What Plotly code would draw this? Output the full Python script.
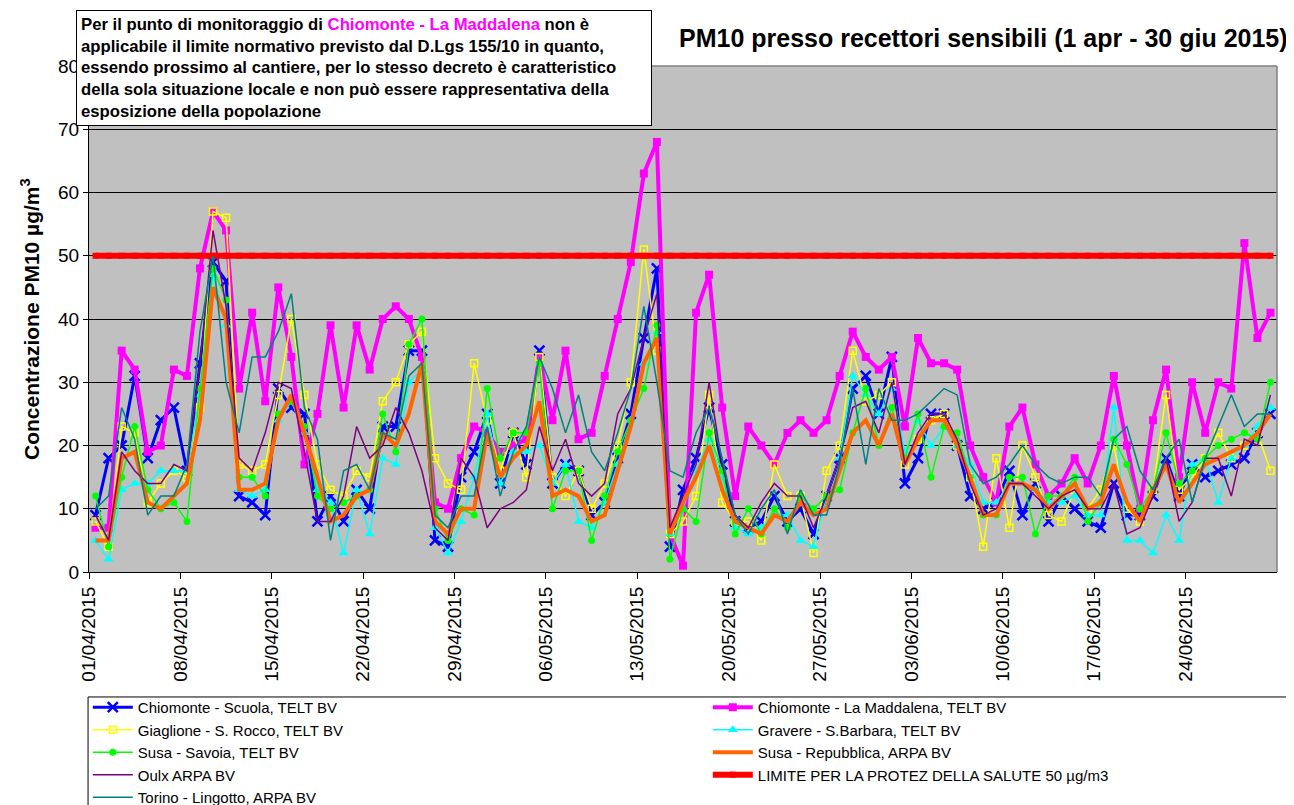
import plotly.graph_objects as go
import pandas as pd

# ---- categories ----
dates = pd.date_range("2015-04-01", "2015-06-30", freq="D")
tick_labels = ["01/04/2015", "08/04/2015", "15/04/2015", "22/04/2015", "29/04/2015",
               "06/05/2015", "13/05/2015", "20/05/2015", "27/05/2015", "03/06/2015",
               "10/06/2015", "17/06/2015", "24/06/2015"]

# ---- series values (µg/m3) ----
scuola = [9,18,20,31,18,24,26,16,33,49, 46,12,11,9,29,26,25,8,12,8,
          13,10,23,23,35,35,5,4,15,19, 25,14,22,17,35,14,17,16,9,11,
          18,25,37,48,4,13,18,26,17,8, 7,8,12,8,10,6,12,18,29,31,
          25,34,14,18,25,25,20,12,10,11, 16,9,14,8,12,10,8,7,14,9,
          9,12,18,12,17,15,16,17,18,22, 25]
maddalena = [7,7,35,32,19,20,32,31,48,57, 54,29,41,27,45,34,17,25,39,26,
             39,32,40,42,40,34,11,10,18,23, 22,19,20,21,34,24,35,21,22,31,
             40,49,63,68,6,1,41,47,26,12, 23,20,17,22,24,22,24,31,38,34,
             32,34,23,37,33,33,32,20,15,11, 23,26,17,12,14,18,14,20,31,20,
             10,24,32,15,30,22,30,29,52,37, 41]
giaglione = [8,4,23,22,11,14,16,15,26,57, 56,17,16,17,28,40,28,17,13,12,
             16,15,27,30,36,38,18,14,13,33, 24,16,22,15,34,15,12,16,10,14,
             20,30,51,35,6,8,12,28,11,8, 8,5,17,12,12,3,16,20,35,27,
             28,30,17,21,24,25,20,15,4,18, 7,20,15,9,8,13,10,13,20,10,
             8,13,28,13,15,18,22,18,20,22, 16]
gravere = [5,2,13,14,14,16,16,16,28,47, 39,13,12,13,24,27,22,13,11,3,
           13,6,18,17,30,32,7,3,8,15, 25,14,19,19,20,14,17,8,7,11,
           17,24,33,38,6,10,16,21,15,7, 6,7,9,9,5,4,12,18,31,28,
           25,29,19,24,20,23,20,17,11,11, 14,14,13,11,11,12,9,9,26,5,
           5,3,9,5,17,18,11,18,20,23, 26]
savoia = [12,4,15,23,13,10,11,8,29,48, 43,15,15,12,25,27,23,12,10,11,
          12,13,25,19,36,40,10,5,10,9, 29,18,22,22,33,10,16,16,5,12,
          19,24,29,39,2,10,8,22,16,6, 10,6,10,7,12,10,12,13,22,29,
          20,26,18,25,15,23,22,15,9,9, 15,15,6,12,12,15,8,11,21,17,
          10,13,22,14,16,18,20,21,22,21, 30]
repubblica = [5,5,18,19,11,10,12,14,24,45, 40,13,13,14,24,28,22,15,8,9,
              12,13,22,20,25,33,8,6,10,10, 22,15,18,20,27,12,13,12,8,9,
              16,23,33,37,6,11,15,20,13,8, 7,6,9,8,11,9,10,16,22,24,
              20,25,17,21,24,24,20,15,9,9, 14,14,13,10,12,14,10,11,17,11,
              8,13,17,11,14,17,18,19,20,22, 25]
oulx = [9,5,19,16,14,14,17,16,33,54, 42,18,16,22,30,29,19,8,8,12,
        23,18,20,26,22,16,7,5,18,15, 7,10,11,13,23,16,21,14,12,14,
        25,29,37,44,7,12,17,30,17,9, 7,11,14,12,12,7,12,18,26,27,
        22,30,17,22,25,25,21,14,9,10, 14,14,12,10,12,13,10,10,14,6,
        7,12,18,8,11,18,18,12,21,20, 28]
torino = [10,12,26,21,9,12,12,17,38,50, 30,22,34,34,38,44,26,21,5,16,
          17,13,22,21,31,33,9,7,12,12, 23,12,19,23,34,29,22,28,19,16,
          22,29,42,30,16,15,22,26,18,9, 6,10,13,6,13,9,9,17,29,17,
          29,24,24,25,27,29,28,17,14,15, 17,20,17,15,14,15,15,12,21,23,
          16,13,18,21,11,18,23,28,23,25, 25]
limit_value = 50
limit = [limit_value] * len(dates)

FONT = "Liberation Sans, Arial, sans-serif"
half_day = pd.Timedelta(hours=12)

fig = go.Figure()

def add(name, y, color, width, symbol=None, msize=8, mline=None):
    mode = "lines+markers" if symbol else "lines"
    marker = None
    if symbol:
        marker = dict(symbol=symbol, size=msize, color=color)
        if mline is not None:
            marker["line"] = dict(width=mline, color=color)
    fig.add_trace(go.Scatter(x=dates, y=y, name=name, mode=mode,
                             line=dict(color=color, width=width),
                             marker=marker))

add("Chiomonte - Scuola, TELT BV", scuola, "#0000FF", 3, "x-thin", 10, 2.5)
add("Chiomonte - La Maddalena, TELT BV", maddalena, "#FF00FF", 4, "square", 8)
add("Giaglione - S. Rocco, TELT BV", giaglione, "#FFFF00", 1.5, "square-open", 7, 1.5)
add("Gravere - S.Barbara, TELT BV", gravere, "#00FFFF", 1.5, "triangle-up", 9)
add("Susa - Savoia, TELT BV", savoia, "#00FF00", 1.5, "circle", 7)
add("Susa - Repubblica, ARPA BV", repubblica, "#FF6600", 4)
add("Oulx ARPA BV", oulx, "#800080", 1.5)
add("LIMITE PER LA PROTEZ DELLA SALUTE 50 µg/m3", limit, "#FF0000", 6, "square", 6)
add("Torino - Lingotto, ARPA BV", torino, "#008080", 1.5)

tickvals = [pd.to_datetime(t, format="%d/%m/%Y") - half_day for t in tick_labels]

fig.update_layout(
    width=1294, height=805,
    margin=dict(l=81, r=25, t=58, b=241, autoexpand=False),
    paper_bgcolor="white",
    plot_bgcolor="#C0C0C0",
    font=dict(family=FONT, color="black"),
    showlegend=True,
    legend=dict(orientation="h", x=-0.001, xanchor="left", y=-0.235, yanchor="top",
                entrywidth=565, entrywidthmode="pixels", itemwidth=40,
                font=dict(family=FONT, size=15, color="black"),
                bgcolor="rgba(0,0,0,0)", borderwidth=0, traceorder="normal"),
    xaxis=dict(type="date", range=[dates[0] - half_day, dates[-1] + half_day],
               tickvals=tickvals, ticktext=tick_labels, tickangle=-90,
               ticks="outside", ticklen=6, tickcolor="black",
               showline=True, linecolor="black", linewidth=1,
               showgrid=False, zeroline=False,
               tickfont=dict(family=FONT, size=19, color="black")),
    yaxis=dict(range=[0, 80], tickvals=list(range(0, 81, 10)),
               ticks="outside", ticklen=5, tickcolor="black",
               showline=True, linecolor="black", linewidth=1,
               showgrid=True, gridcolor="black", gridwidth=1, zeroline=False,
               tickfont=dict(family=FONT, size=19, color="black")),
    shapes=[
        # legend frame
        dict(type="rect", xref="paper", yref="paper", x0=-0.0008, x1=1.011,
             y0=-0.5, y1=-0.247, line=dict(color="black", width=1),
             fillcolor="white", layer="below"),
        # plot-area frame (top and right, grey)
        dict(type="line", xref="paper", yref="paper", x0=0, x1=1, y0=1, y1=1,
             line=dict(color="#808080", width=1.5), layer="above"),
        dict(type="line", xref="paper", yref="paper", x0=1, x1=1, y0=0, y1=1,
             line=dict(color="#808080", width=1.5), layer="above"),
    ],
    annotations=[
        dict(xref="paper", yref="paper", x=1.011, y=1.055, xanchor="right", yanchor="middle",
             text="<b>PM10 presso recettori sensibili (1 apr - 30 giu 2015)</b>",
             showarrow=False, font=dict(family=FONT, size=25, color="black")),
        dict(xref="paper", yref="paper", x=-0.0497, y=0.5, xanchor="center", yanchor="middle",
             text="<b>Concentrazione PM10 µg/m<sup>3</sup></b>", textangle=-90,
             showarrow=False, font=dict(family=FONT, size=21, color="black")),
        dict(xref="paper", yref="paper", x=-0.0109, y=1.1107, xanchor="left", yanchor="top",
             text=("<b>Per il punto di monitoraggio di <span style='color:#FF00FF'>Chiomonte - La Maddalena</span> non è<br>"
                   "applicabile il limite normativo previsto dal D.Lgs 155/10 in quanto,<br>"
                   "essendo prossimo al cantiere, per lo stesso decreto è caratteristico<br>"
                   "della sola situazione locale e non può essere rappresentativa della<br>"
                   "esposizione della popolazione</b>"),
             align="left", valign="top", width=566, height=106, borderpad=4,
             bordercolor="black", borderwidth=1, bgcolor="white",
             showarrow=False, font=dict(family=FONT, size=16.7, color="black")),
    ],
)

fig.write_html("out.html")
